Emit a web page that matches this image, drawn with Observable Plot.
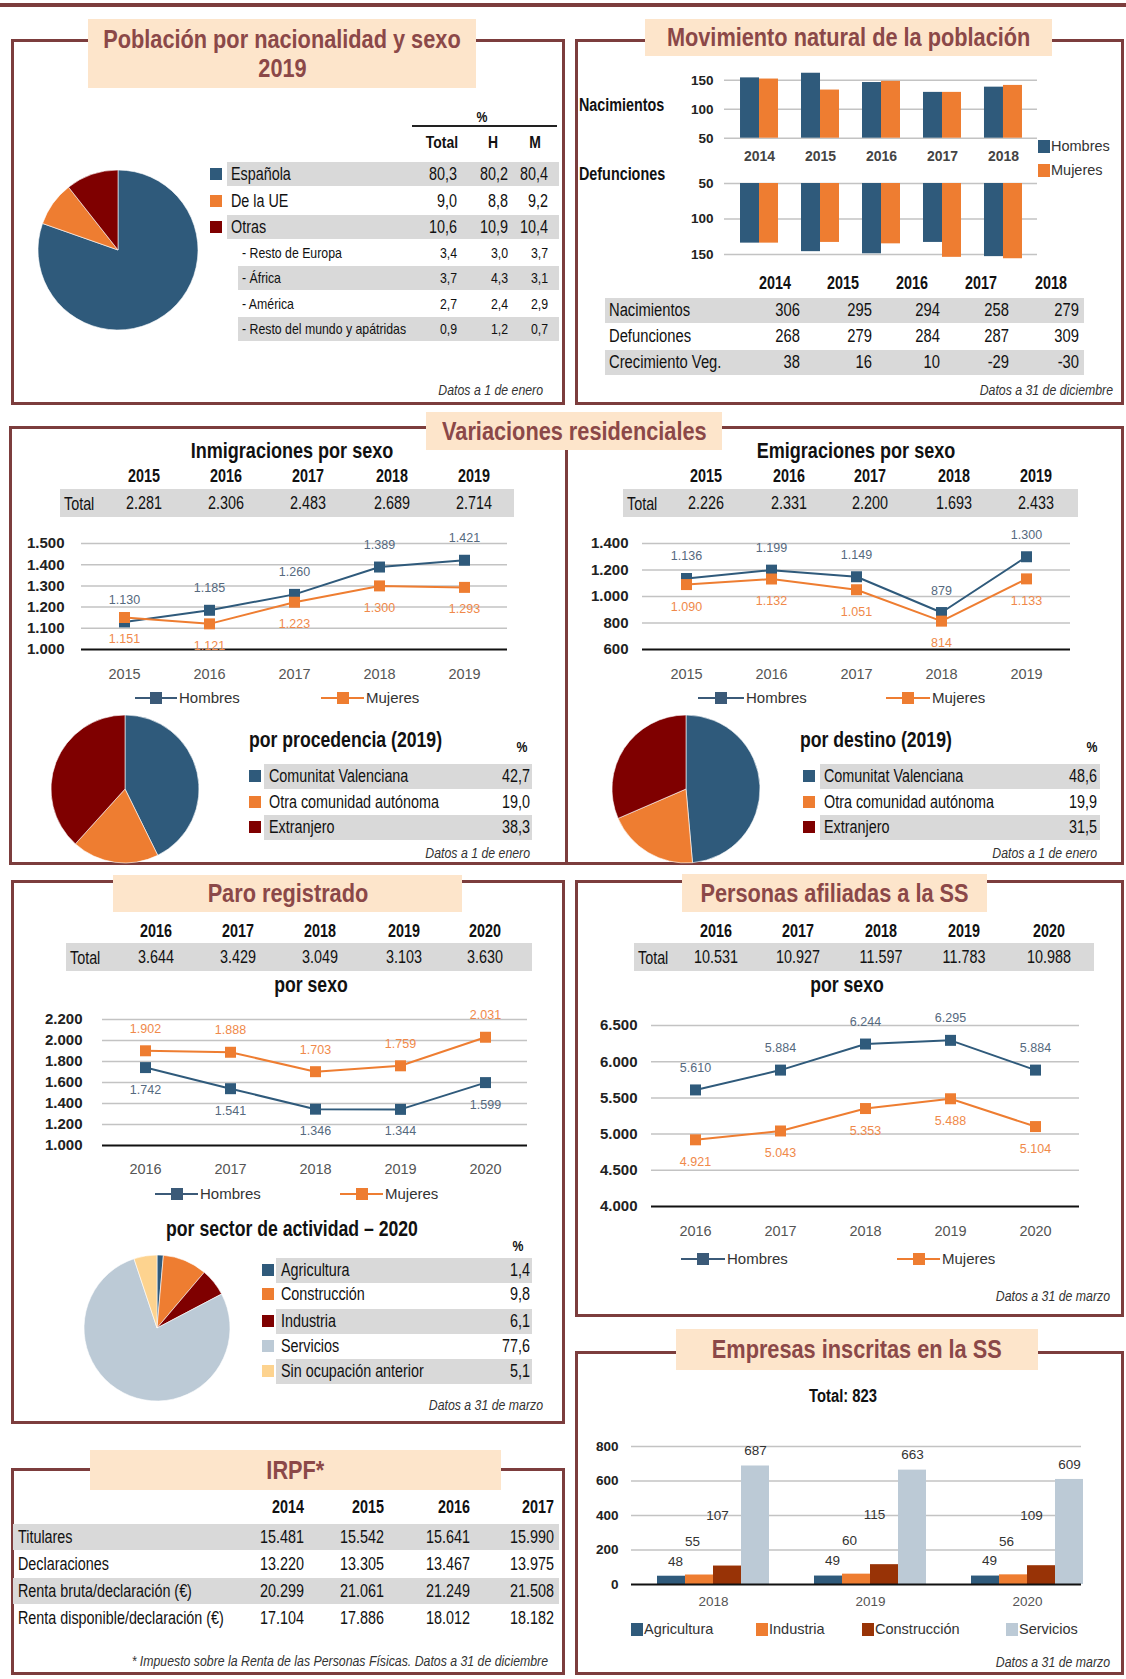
<!DOCTYPE html>
<html><head><meta charset="utf-8">
<script src="https://cdn.jsdelivr.net/npm/d3@7"></script>
<script src="https://cdn.jsdelivr.net/npm/@observablehq/plot@0.6"></script>
<style>
body{margin:0;background:#fff;}
#page{position:relative;width:1126px;height:1679px;overflow:hidden;background:#fff;}
</style></head>
<body><div id="page"></div>
<script>
// ---------------- DATA ----------------
// Población por nacionalidad y sexo 2019
const nacCats = ["Española", "De la UE", "Otras"];
const nacTotal = [80.3, 9.0, 10.6];
const nacH = [80.2, 8.8, 10.9];
const nacM = [80.4, 9.2, 10.4];
const otrasCats = ["- Resto de Europa", "- África", "- América", "- Resto del mundo y apátridas"];
const otrasTotal = [3.4, 3.7, 2.7, 0.9];
const otrasH = [3.0, 4.3, 2.4, 1.2];
const otrasM = [3.7, 3.1, 2.9, 0.7];

// Movimiento natural
const movYears = ["2014", "2015", "2016", "2017", "2018"];
const nacimH = [154, 162, 146, 129, 138];
const nacimM = [152, 133, 148, 129, 141];
const defunH = [134, 146, 149, 133, 153];
const defunM = [134, 133, 135, 154, 156];
const movRows = ["Nacimientos", "Defunciones", "Crecimiento Veg."];
const nacimientos = [306, 295, 294, 258, 279];
const defunciones = [268, 279, 284, 287, 309];
const crecimiento = [38, 16, 10, -29, -30];

// Variaciones residenciales
const varYears = ["2015", "2016", "2017", "2018", "2019"];
const inmTotal = [2281, 2306, 2483, 2689, 2714];
const inmH = [1130, 1185, 1260, 1389, 1421];
const inmM = [1151, 1121, 1223, 1300, 1293];
const emiTotal = [2226, 2331, 2200, 1693, 2433];
const emiH = [1136, 1199, 1149, 879, 1300];
const emiM = [1090, 1132, 1051, 814, 1133];
const origenCats = ["Comunitat Valenciana", "Otra comunidad autónoma", "Extranjero"];
const procedencia = [42.7, 19.0, 38.3];
const destino = [48.6, 19.9, 31.5];

// Paro registrado
const paroYears = ["2016", "2017", "2018", "2019", "2020"];
const paroTotal = [3644, 3429, 3049, 3103, 3630];
const paroH = [1742, 1541, 1346, 1344, 1599];
const paroM = [1902, 1888, 1703, 1759, 2031];
const sectorCats = ["Agricultura", "Construcción", "Industria", "Servicios", "Sin ocupación anterior"];
const sectorPct = [1.4, 9.8, 6.1, 77.6, 5.1];

// Personas afiliadas
const afilYears = ["2016", "2017", "2018", "2019", "2020"];
const afilTotal = [10531, 10927, 11597, 11783, 10988];
const afilH = [5610, 5884, 6244, 6295, 5884];
const afilM = [4921, 5043, 5353, 5488, 5104];

// Empresas inscritas
const empYears = ["2018", "2019", "2020"];
const empCats = ["Agricultura", "Industria", "Construcción", "Servicios"];
const empAgri = [48, 49, 49];
const empInd = [55, 60, 56];
const empCons = [107, 115, 109];
const empServ = [687, 663, 609];
const empTotal = 823;

// IRPF
const irpfYears = ["2014", "2015", "2016", "2017"];
const irpfRows = ["Titulares", "Declaraciones", "Renta bruta/declaración (€)", "Renta disponible/declaración (€)"];
const titulares = [15481, 15542, 15641, 15990];
const declaraciones = [13220, 13305, 13467, 13975];
const rentaBruta = [20299, 21061, 21249, 21508];
const rentaDisp = [17104, 17886, 18012, 18182];

// ---------------- STYLE ----------------
const SANS = '"Liberation Sans",Arial,sans-serif';
const NARROWSCALE = 0.82;
const BLUE = "#2f5a7b", ORANGE = "#ee7d31", RED = "#7f0000", BROWN = "#983306",
      GRAYBLUE = "#bccad6", PEACH = "#fdd38f", STRIPE = "#d9d9d9",
      BORDER = "#7c3d3d", TITLEBG = "#fde5cb", TITLEFG = "#8b4848";
const loc = d3.formatLocale({decimal: ",", thousands: ".", grouping: [3], currency: ["", "€"], minus: "-"});
const fInt = loc.format(",d");
const f1 = loc.format(",.1f");

const page = document.getElementById("page");
function el(tag, css, t) { const e = document.createElement(tag); e.style.cssText = css; if (t != null) e.textContent = t; page.appendChild(e); return e; }
function rect(x, y, w, h, fill) { return el("div", `position:absolute;left:${x}px;top:${y}px;width:${w}px;height:${h}px;background:${fill};`); }
// text: narrow (Arial-Narrow-like) by default via horizontal scaling of Liberation Sans
function txt(s, x, y, o = {}) {
  const a = o.anchor || "start";
  const tx = a === "end" ? "-100%" : a === "middle" ? "-50%" : "0";
  const ox = a === "end" ? "100%" : a === "middle" ? "50%" : "0";
  const k = o.wide ? 1 : NARROWSCALE;
  return el("div", `position:absolute;left:${x}px;top:${y}px;transform-origin:${ox} 50%;transform:translate(${tx},-50%) scaleX(${k});white-space:nowrap;line-height:1.15;font-family:${SANS};font-size:${o.size || 17.5}px;font-weight:${o.bold ? 700 : 400};font-style:${o.italic ? "italic" : "normal"};color:${o.color || "#111"};`, s);
}
function panel(x0, y0, x1, y1) { el("div", `position:absolute;left:${x0}px;top:${y0}px;width:${x1 - x0}px;height:${y1 - y0}px;border:3px solid ${BORDER};box-sizing:border-box;`); }
function titleBox(x0, y0, x1, y1, lines) {
  const d = el("div", `position:absolute;left:${x0}px;top:${y0}px;width:${x1 - x0}px;height:${y1 - y0}px;background:${TITLEBG};color:${TITLEFG};font-family:${SANS};font-weight:700;font-size:26.5px;display:flex;flex-direction:column;justify-content:center;align-items:center;line-height:1.06;`);
  lines.forEach(l => { const s = document.createElement("div"); s.textContent = l; s.style.cssText = `white-space:nowrap;transform:scaleX(${NARROWSCALE});transform-origin:50% 50%;`; d.appendChild(s); });
}
function place(node, x, y) { node.style.position = "absolute"; node.style.left = x + "px"; node.style.top = y + "px"; node.style.overflow = "visible"; node.style.maxWidth = "none"; page.appendChild(node); }
function note(s, xr, y) { txt(s, xr, y, {anchor: "end", italic: true, size: 15, color: "#333"}); }

// ---------------- CHART HELPERS ----------------
function pieChart(values, colors, cx, cy, r) {
  const data = values.map((v, i) => ({v, c: colors[i]}));
  const pad = 3;
  const svg = Plot.plot({
    width: 2 * r + 2 * pad, height: 2 * r + 2 * pad, margin: pad,
    style: {background: "transparent", overflow: "visible"},
    x: {domain: [-1, 1], axis: null}, y: {domain: [-1, 1], axis: null},
    marks: [
      (index, scales, channels, dims) => {
        const sx = scales.x, sy = scales.y;
        const X0 = sx ? sx(0) : dims.width / 2, Y0 = sy ? sy(0) : dims.height / 2;
        const R = sx ? sx(1) - sx(0) : r;
        const arcs = d3.pie().sort(null).value(d => d.v)(data);
        const arc = d3.arc().innerRadius(0).outerRadius(R);
        const g = d3.create("svg:g").attr("transform", `translate(${X0},${Y0})`);
        g.selectAll("path").data(arcs).join("path").attr("d", arc)
          .attr("fill", d => d.data.c).attr("stroke", "#fff").attr("stroke-width", 0.6);
        return g.node();
      }
    ]
  });
  place(svg, cx - r - pad, cy - r - pad);
}

function lineChart({years, h, m, domain, ticks, gx0, gx1, yTop, yBot, hAbove = true, xPad = 19, yPad = 15}) {
  const ml = 70, mr = 10, mt = 30, mb = 40;
  const data = years.flatMap((yr, i) => [{year: yr, sexo: "Hombres", v: h[i]}, {year: yr, sexo: "Mujeres", v: m[i]}]);
  const H = data.filter(d => d.sexo === "Hombres"), M = data.filter(d => d.sexo === "Mujeres");
  const svg = Plot.plot({
    width: gx1 - gx0 + ml + mr, height: yBot - yTop + mt + mb,
    marginLeft: ml, marginRight: mr, marginTop: mt, marginBottom: mb,
    style: {fontFamily: SANS, background: "transparent", overflow: "visible"},
    x: {type: "point", domain: years, padding: 0.5},
    y: {domain, ticks},
    color: {domain: ["Hombres", "Mujeres"], range: [BLUE, ORANGE]},
    marks: [
      Plot.gridY(ticks.slice(1), {stroke: "#c3c3c3", strokeOpacity: 1, strokeWidth: 1.5}),
      Plot.ruleY([domain[0]], {stroke: "#111", strokeWidth: 2.2}),
      Plot.axisY({ticks, tickSize: 0, tickPadding: yPad, tickFormat: fInt, fontSize: 15, fontWeight: "bold", fill: "#222", label: null}),
      Plot.axisX({tickSize: 0, tickPadding: xPad, fontSize: 14.5, fill: "#555", label: null}),
      Plot.line(data, {x: "year", y: "v", stroke: "sexo", z: "sexo", strokeWidth: 2}),
      Plot.dot(data, {x: "year", y: "v", fill: "sexo", symbol: "square", r: 6.2}),
      Plot.text(H, {x: "year", y: "v", text: d => fInt(d.v), dy: hAbove ? -22 : 22, fill: "#55697e", fontSize: 12.5}),
      Plot.text(M, {x: "year", y: "v", text: d => fInt(d.v), dy: hAbove ? 22 : -22, fill: "#f0894a", fontSize: 12.5})
    ]
  });
  place(svg, gx0 - ml, yTop - mt);
}

function legLine(x0, x1, y, color, label) {
  rect(x0, y - 1, x1 - x0, 2, color);
  rect((x0 + x1) / 2 - 6, y - 6, 12, 12, color);
  txt(label, x1 + 2, y, {wide: true, size: 15, color: "#333"});
}

function totalRow(years, totals, xs, yHead, yRow, x0, x1, labelX) {
  years.forEach((yr, i) => txt(yr, xs[i], yHead, {anchor: "middle", bold: true, size: 17.5}));
  rect(x0, yRow - 14, x1 - x0, 28, STRIPE);
  txt("Total", labelX, yRow + 1, {size: 17.5});
  totals.forEach((v, i) => txt(fInt(v), xs[i], yRow, {anchor: "middle", size: 17.5}));
}

// ---------------- FRAME ----------------
rect(0, 3, 1126, 4, BORDER);
panel(11, 39, 565, 405);
panel(575, 39, 1124, 405);
panel(9, 426, 1124, 865);
rect(565, 426, 3, 439, BORDER);
panel(11, 880, 565, 1424);
panel(575, 880, 1124, 1317);
panel(575, 1351, 1124, 1675);
panel(11, 1468, 565, 1675);

titleBox(88, 19, 476, 88, ["Población por nacionalidad y sexo", "2019"]);
titleBox(645, 19, 1052, 56, ["Movimiento natural de la población"]);
titleBox(426, 412, 722, 450, ["Variaciones residenciales"]);
titleBox(113, 875, 462, 912, ["Paro registrado"]);
titleBox(682, 874, 987, 912, ["Personas afiliadas a la SS"]);
titleBox(676, 1329, 1038, 1370, ["Empresas inscritas en la SS"]);
titleBox(90, 1450, 501, 1490, ["IRPF*"]);

// ---------------- PANEL 1: Población ----------------
pieChart(nacTotal, [BLUE, ORANGE, RED], 118, 250, 80);
txt("%", 482, 117, {anchor: "middle", bold: true, size: 15});
rect(412, 125, 145, 1.5, "#222");
[["Total", 442], ["H", 493], ["M", 535]].forEach(([s, x]) => txt(s, x, 143, {anchor: "middle", bold: true, size: 17}));
const nacY = [174, 201, 227];
nacCats.forEach((c, i) => {
  const y = nacY[i];
  if (i % 2 === 0) rect(227, y - 12, 332, 24, STRIPE);
  rect(210, y - 6, 12, 12, [BLUE, ORANGE, RED][i]);
  txt(c, 231, y, {size: 17.5});
  txt(f1(nacTotal[i]), 457, y, {anchor: "end", size: 17.5});
  txt(f1(nacH[i]), 508, y, {anchor: "end", size: 17.5});
  txt(f1(nacM[i]), 548, y, {anchor: "end", size: 17.5});
});
const otY = [253, 278, 304, 329];
otrasCats.forEach((c, i) => {
  const y = otY[i];
  if (i % 2 === 1) rect(238, y - 12, 321, 24, STRIPE);
  txt(c, 242, y, {size: 15});
  txt(f1(otrasTotal[i]), 457, y, {anchor: "end", size: 15});
  txt(f1(otrasH[i]), 508, y, {anchor: "end", size: 15});
  txt(f1(otrasM[i]), 548, y, {anchor: "end", size: 15});
});
note("Datos a 1 de enero", 543, 390);

// ---------------- PANEL 2: Movimiento natural ----------------
function movChart(h, m, domain, ticks, yTopPx, yBotPx, reverse, showX) {
  const gx0 = 724, gx1 = 1037, ml = 50, mr = 4, mt = 6, mb = showX ? 30 : 6;
  const data = movYears.flatMap((yr, i) => [{year: yr, sexo: "Hombres", v: h[i]}, {year: yr, sexo: "Mujeres", v: m[i]}]);
  const marks = [
    Plot.gridY(ticks, {stroke: "#c3c3c3", strokeOpacity: 1, strokeWidth: 1.5}),
    Plot.axisY({ticks, tickSize: 0, tickPadding: 11, fontSize: 13.5, fontWeight: "bold", fill: "#222", label: null}),
    Plot.barY(data.filter(d => d.sexo === "Hombres"), {x: "year", y1: domain[0], y2: "v", fill: BLUE, insetRight: 19}),
    Plot.barY(data.filter(d => d.sexo === "Mujeres"), {x: "year", y1: domain[0], y2: "v", fill: ORANGE, insetLeft: 19})
  ];
  if (showX) marks.push(Plot.axisX({tickSize: 0, tickPadding: 13, fontSize: 14, fontWeight: "bold", fill: "#444", label: null}));
  const svg = Plot.plot({
    width: gx1 - gx0 + ml + mr, height: yBotPx - yTopPx + mt + mb,
    marginLeft: ml, marginRight: mr, marginTop: mt, marginBottom: mb,
    style: {fontFamily: SANS, background: "transparent", overflow: "visible"},
    x: {type: "band", domain: movYears, paddingInner: 0.382, paddingOuter: 0.245, axis: showX ? undefined : null},
    y: {domain, reverse},
    marks
  });
  place(svg, gx0 - ml, yTopPx - mt);
}
// top: 50 at y=138, 150 at y=80  → 0.58 px/unit
movChart(nacimH, nacimM, [50, 165], [50, 100, 150], 138 - 115 * 0.58, 138, false, true);
// bottom: 50 at y=183, 100 at y=218.5 → 0.71 px/unit
movChart(defunH, defunM, [50, 160], [50, 100, 150], 183, 183 + 110 * 0.71, true, false);
txt("Nacimientos", 579, 105, {bold: true, size: 17.5});
txt("Defunciones", 579, 174, {bold: true, size: 17.5});
rect(1038, 140, 12, 13, BLUE); txt("Hombres", 1051, 146, {wide: true, size: 14.5, color: "#333"});
rect(1038, 164, 12, 13, ORANGE); txt("Mujeres", 1051, 170, {wide: true, size: 14.5, color: "#333"});
const movHeadX = [775, 843, 912, 981, 1051];
const movValX = [800, 872, 940, 1009, 1079];
movYears.forEach((yr, i) => txt(yr, movHeadX[i], 283, {anchor: "middle", bold: true, size: 17.5}));
const movVals = [nacimientos, defunciones, crecimiento];
const movRowY = [310, 336, 362];
movRows.forEach((r, k) => {
  const y = movRowY[k];
  if (k !== 1) rect(605, y - 12, 479, 25, STRIPE);
  txt(r, 609, y, {size: 18});
  movVals[k].forEach((v, i) => txt(fInt(v), movValX[i], y, {anchor: "end", size: 18}));
});
note("Datos a 31 de diciembre", 1113, 390);

// ---------------- PANEL 3: Variaciones residenciales ----------------
txt("Inmigraciones por sexo", 292, 451, {anchor: "middle", bold: true, size: 22});
totalRow(varYears, inmTotal, [144, 226, 308, 392, 474], 476, 503, 60, 514, 64);
lineChart({years: varYears, h: inmH, m: inmM, domain: [1000, 1500], ticks: [1000, 1100, 1200, 1300, 1400, 1500], gx0: 81, gx1: 507, yTop: 543, yBot: 649, hAbove: true, xPad: 19, yPad: 17});
legLine(135, 177, 698, "#3b5a78", "Hombres");
legLine(321, 364, 698, ORANGE, "Mujeres");
pieChart(procedencia, [BLUE, ORANGE, RED], 125, 789, 74);
txt("por procedencia (2019)", 249, 740, {bold: true, size: 21.5});
txt("%", 522, 747, {anchor: "middle", bold: true, size: 15});
const pY = [776, 802, 827];
origenCats.forEach((c, i) => {
  const y = pY[i];
  if (i !== 1) rect(264, y - 12, 268, 25, STRIPE);
  rect(249, y - 6, 12, 12, [BLUE, ORANGE, RED][i]);
  txt(c, 269, y, {size: 17.5});
  txt(f1(procedencia[i]), 530, y, {anchor: "end", size: 17.5});
});
note("Datos a 1 de enero", 530, 853);

txt("Emigraciones por sexo", 856, 451, {anchor: "middle", bold: true, size: 22});
totalRow(varYears, emiTotal, [706, 789, 870, 954, 1036], 476, 503, 623, 1078, 627);
lineChart({years: varYears, h: emiH, m: emiM, domain: [600, 1400], ticks: [600, 800, 1000, 1200, 1400], gx0: 642, gx1: 1070, yTop: 543, yBot: 649, hAbove: true, xPad: 19, yPad: 14});
legLine(698, 744, 698, "#3b5a78", "Hombres");
legLine(886, 930, 698, ORANGE, "Mujeres");
pieChart(destino, [BLUE, ORANGE, RED], 686, 789, 74);
txt("por destino (2019)", 800, 740, {bold: true, size: 21.5});
txt("%", 1092, 747, {anchor: "middle", bold: true, size: 15});
origenCats.forEach((c, i) => {
  const y = pY[i];
  if (i !== 1) rect(820, y - 12, 280, 25, STRIPE);
  rect(803, y - 6, 12, 12, [BLUE, ORANGE, RED][i]);
  txt(c, 824, y, {size: 17.5});
  txt(f1(destino[i]), 1097, y, {anchor: "end", size: 17.5});
});
note("Datos a 1 de enero", 1097, 853);

// ---------------- PANEL 4: Paro registrado ----------------
totalRow(paroYears, paroTotal, [156, 238, 320, 404, 485], 931, 957, 66, 532, 70);
txt("por sexo", 311, 985, {anchor: "middle", bold: true, size: 21.5});
lineChart({years: paroYears, h: paroH, m: paroM, domain: [1000, 2200], ticks: [1000, 1200, 1400, 1600, 1800, 2000, 2200], gx0: 102, gx1: 527, yTop: 1019, yBot: 1145, hAbove: false, xPad: 18, yPad: 20});
legLine(155, 198, 1194, "#3b5a78", "Hombres");
legLine(340, 383, 1194, ORANGE, "Mujeres");
txt("por sector de actividad – 2020", 292, 1229, {anchor: "middle", bold: true, size: 21.5});
txt("%", 518, 1246, {anchor: "middle", bold: true, size: 15});
const sectorColors = [BLUE, ORANGE, RED, GRAYBLUE, PEACH];
pieChart(sectorPct, sectorColors, 157, 1328, 73);
const sY = [1270, 1294, 1321, 1346, 1371];
sectorCats.forEach((c, i) => {
  const y = sY[i];
  if (i % 2 === 0) rect(276, y - 12, 256, 25, STRIPE);
  rect(262, y - 6, 12, 12, sectorColors[i]);
  txt(c, 281, y, {size: 17.5});
  txt(f1(sectorPct[i]), 530, y, {anchor: "end", size: 17.5});
});
note("Datos a 31 de marzo", 543, 1405);

// ---------------- PANEL 5: Afiliadas ----------------
totalRow(afilYears, afilTotal, [716, 798, 881, 964, 1049], 931, 957, 634, 1094, 638);
txt("por sexo", 847, 985, {anchor: "middle", bold: true, size: 21.5});
lineChart({years: afilYears, h: afilH, m: afilM, domain: [4000, 6500], ticks: [4000, 4500, 5000, 5500, 6000, 6500], gx0: 651, gx1: 1079, yTop: 1025, yBot: 1206, hAbove: true, xPad: 19, yPad: 14});
legLine(681, 725, 1259, "#3b5a78", "Hombres");
legLine(897, 940, 1259, ORANGE, "Mujeres");
note("Datos a 31 de marzo", 1110, 1296);

// ---------------- PANEL 6: Empresas ----------------
txt("Total:  " + empTotal, 843, 1396, {anchor: "middle", bold: true, size: 18});
(function () {
  const gx0 = 631, gx1 = 1081, ml = 50, mr = 6, mt = 20, mb = 30;
  const yTop = 1446, yBot = 1584;
  const series = [empAgri, empInd, empCons, empServ];
  const empColors = [BLUE, ORANGE, BROWN, GRAYBLUE];
  const data = empYears.flatMap((yr, i) => empCats.map((c, k) => ({year: yr, cat: c, k, v: series[k][i]})));
  const bw = 112, sub = bw / 4;
  const labelDy = [-15, -33, -50, -15];
  const labelDx = [4, -7, -10, 0];
  const svgLeft = gx0 - ml;
  const svg = Plot.plot({
    width: gx1 - gx0 + ml + mr, height: yBot - yTop + mt + mb,
    marginLeft: ml, marginRight: mr, marginTop: mt, marginBottom: mb,
    style: {fontFamily: SANS, background: "transparent", overflow: "visible"},
    x: {type: "band", domain: empYears, paddingInner: 0.289, paddingOuter: 0, range: [656 - svgLeft, 1083 - svgLeft]},
    y: {domain: [0, 800]},
    marks: [
      Plot.gridY([200, 400, 600, 800], {stroke: "#c3c3c3", strokeOpacity: 1, strokeWidth: 1.5}),
      Plot.axisY({ticks: [0, 200, 400, 600, 800], tickSize: 0, tickPadding: 13, fontSize: 13.5, fontWeight: "bold", fill: "#222", label: null}),
      Plot.axisX({tickSize: 0, tickPadding: 12, fontSize: 13.5, fill: "#555", label: null}),
      ...empCats.map((c, k) => Plot.barY(data.filter(d => d.k === k), {x: "year", y: "v", fill: empColors[k], insetLeft: k * sub, insetRight: (3 - k) * sub})),
      Plot.ruleY([0], {stroke: "#111", strokeWidth: 2.2}),
      ...empCats.map((c, k) => Plot.text(data.filter(d => d.k === k), {x: "year", y: "v", text: d => String(d.v), dx: (k + 0.5) * sub - bw / 2 + labelDx[k], dy: labelDy[k], fontSize: 13.5, fill: "#333"}))
    ]
  });
  place(svg, svgLeft, yTop - mt);
  const legX = [631, 756, 862, 1006];
  empCats.forEach((c, k) => {
    rect(legX[k], 1623, 12, 13, empColors[k]);
    txt(c, legX[k] + 13, 1629, {wide: true, size: 14.5, color: "#333"});
  });
})();
note("Datos a 31 de marzo", 1110, 1662);

// ---------------- PANEL 7: IRPF ----------------
const irpfX = [304, 384, 470, 554];
irpfYears.forEach((yr, i) => txt(yr, irpfX[i], 1507, {anchor: "end", bold: true, size: 17.5}));
const irpfVals = [titulares, declaraciones, rentaBruta, rentaDisp];
const irpfY = [1537, 1564, 1591, 1618];
irpfRows.forEach((r, k) => {
  const y = irpfY[k];
  if (k % 2 === 0) rect(13, y - 13, 546, 26, STRIPE);
  txt(r, 18, y, {size: 17.5});
  irpfVals[k].forEach((v, i) => txt(fInt(v), irpfX[i], y, {anchor: "end", size: 17.5}));
});
note("* Impuesto sobre la Renta de las Personas Físicas. Datos a 31 de diciembre", 548, 1661);
</script>
</body></html>
